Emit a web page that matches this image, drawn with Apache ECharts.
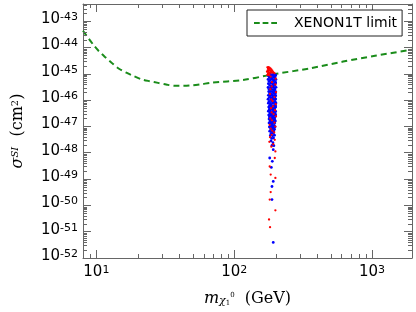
<!DOCTYPE html>
<html><head><meta charset="utf-8">
<script src="https://cdn.jsdelivr.net/npm/echarts@6/dist/echarts.min.js"></script>
<style>html,body{margin:0;padding:0;background:#fff}#c{width:416px;height:312px}</style>
</head><body><div id="c"></div>
<script>
// ---- data ----
const X_MIN = 8, X_MAX = 1950;          // GeV
const Y_MIN_EXP = -52, Y_MAX_EXP = -42.35; // log10(sigma / cm^2)

const xenonMass  = [8.0, 9.46, 10.4, 11.5, 12.9, 14.4, 16.5, 18.5, 21.2, 24.4, 28, 32.1, 37, 43.2, 50.2, 57.7, 68.1, 116, 172, 203, 354, 617, 1077, 1950];
const xenonSigma = [4.3e-44, 1.31e-44, 7.3e-45, 4.45e-45, 2.63e-45, 1.62e-45, 1.1e-45, 8.3e-46, 6.2e-46, 5.2e-46, 4.5e-46, 3.9e-46, 3.5e-46, 3.5e-46, 3.65e-46, 4.0e-46, 4.55e-46, 5.8e-46, 8.5e-46, 1.0e-45, 1.6e-45, 2.9e-45, 4.9e-45, 8.2e-45];

const bluePoints = [
[182,9.6e-46],[188,9.3e-46],[194,9.7e-46],[199,9.1e-46],
[177,8.4e-46],[185,8.1e-46],[191,8.5e-46],[197,8.2e-46],[200,8.6e-46],
[180,7.2e-46],[186,6.9e-46],[193,7.3e-46],[198,7.0e-46],
[176,6.1e-46],[183,5.9e-46],[189,6.2e-46],[195,5.8e-46],[201,6.0e-46],
[179,5.1e-46],[187,4.9e-46],[192,5.2e-46],[199,4.8e-46],
[177,4.2e-46],[184,4.4e-46],[190,4.1e-46],[196,4.3e-46],[200,4.5e-46],
[181,3.6e-46],[186,3.4e-46],[193,3.5e-46],[198,3.7e-46],
[176,3.0e-46],[183,2.9e-46],[189,3.1e-46],[195,2.95e-46],[201,3.05e-46],
[179,2.5e-46],[187,2.55e-46],[192,2.45e-46],[197,2.6e-46],
[178,2.1e-46],[184,2.15e-46],[190,2.05e-46],[196,2.2e-46],[200,2.1e-46],
[181,1.8e-46],[186,1.75e-46],[193,1.85e-46],[199,1.78e-46],
[177,1.52e-46],[183,1.48e-46],[188,1.55e-46],[195,1.5e-46],[200,1.46e-46],
[180,1.27e-46],[186,1.24e-46],[191,1.3e-46],[197,1.25e-46],
[176,1.08e-46],[184,1.05e-46],[189,1.1e-46],[194,1.06e-46],[200,1.09e-46],
[179,8.9e-47],[187,9.1e-47],[192,8.7e-47],[198,9.0e-47],
[177,7.6e-47],[183,7.4e-47],[190,7.8e-47],[196,7.5e-47],[201,7.7e-47],
[181,6.3e-47],[186,6.5e-47],[193,6.2e-47],[199,6.4e-47],
[178,5.4e-47],[184,5.3e-47],[189,5.5e-47],[195,5.35e-47],[200,5.45e-47],
[180,4.5e-47],[187,4.6e-47],[192,4.4e-47],[197,4.55e-47],
[177,3.8e-47],[183,3.9e-47],[190,3.75e-47],[196,3.85e-47],[200,3.7e-47],
[181,3.2e-47],[186,3.15e-47],[193,3.25e-47],[198,3.1e-47],
[178,2.7e-47],[184,2.65e-47],[189,2.75e-47],[195,2.68e-47],[200,2.72e-47],
[180,2.25e-47],[187,2.2e-47],[192,2.3e-47],[197,2.15e-47],
[179,1.9e-47],[185,1.88e-47],[190,1.93e-47],[196,1.87e-47],
[182,1.6e-47],[188,1.62e-47],[194,1.58e-47],[199,1.61e-47],
[179,1.35e-47],[185,1.33e-47],[191,1.37e-47],[197,1.34e-47],
[183,1.12e-47],[189,1.14e-47],[195,1.1e-47],
[180,9.5e-48],[186,9.7e-48],[192,9.3e-48],[198,9.6e-48],
[184,7.9e-48],[190,8.1e-48],[196,7.8e-48],
[181,6.6e-48],[188,6.5e-48],[194,6.7e-48],
[185,5.4e-48],[192,5.5e-48],
[183,4.5e-48],[190,4.4e-48],[196,4.6e-48],
[187,3.5e-48],[193,3.6e-48],
[185,2.8e-48],[191,2.4e-48],[188,1.9e-48],[194,1.85e-48],
[192,1.3e-48],[181,6.3e-49],[189,4.7e-49],[186,2.75e-49],[192,8.1e-50],[188,5.2e-50],[188,1.66e-50],[192,3.9e-52]
];

const redPoints = [
[174,1.75e-45],[177,1.8e-45],[180,1.7e-45],[176,1.55e-45],[179,1.5e-45],[183,1.6e-45],[186,1.45e-45],
[175,1.35e-45],[178,1.3e-45],[182,1.35e-45],[185,1.25e-45],[189,1.3e-45],[173,1.2e-45],[177,1.15e-45],
[181,1.1e-45],[184,1.15e-45],[188,1.1e-45],[192,1.15e-45],[196,1.05e-45],[176,1.0e-45],[180,9.6e-46],
[174,9.0e-46],[178,8.8e-46],
[184,7.8e-46],[200,6.5e-46],[188,4.8e-46],[199,3.9e-46],[187,3.3e-46],[183,2.6e-46],[201,2.0e-46],
[182,1.7e-46],[196,1.3e-46],[186,1.05e-46],[190,9.2e-47],[200,7.0e-47],[191,5.8e-47],[185,4.9e-47],
[198,4.1e-47],[187,3.4e-47],[193,2.9e-47],[201,2.4e-47],[183,2.0e-47],[188,1.7e-47],[196,1.4e-47],
[181,1.15e-47],[199,9.8e-48],[184,8.2e-48],[189,6.9e-48],[195,5.9e-48],[187,4.8e-48],[182,3.9e-48],
[197,3.1e-48],[180,2.6e-48],[192,2.1e-48],[186,1.7e-48],
[199,1.12e-48],[197,6.3e-49],[181,3.0e-49],[184,1.48e-49],[199,1.1e-49],[184,3.2e-50],[181,1.66e-50],
[199,6.5e-51],[179,2.9e-51],[182,1.48e-51]
];

const xMinorTicks = [9, 20, 30, 40, 50, 60, 70, 80, 90, 200, 300, 400, 500, 600, 700, 800, 900];
const yMinorMantissas = [2, 3, 4, 5, 6, 7, 8, 9];

// ---- helpers ----
const lg = Math.log10;
const toXY = p => [p[0], lg(p[1])];
const yMinorTicks = [];
for (let e = Y_MIN_EXP; e < Y_MAX_EXP; e++) yMinorMantissas.forEach(k => { const v = e + lg(k); if (v < Y_MAX_EXP) yMinorTicks.push(v); });

const AXIS_COLOR = '#666';
const GREEN = '#1a8c1a';
const SANS = 'DejaVu Sans';
const SERIF = 'DejaVu Serif';

function xLabel(v) {
  const e = lg(v); const r = Math.round(e);
  if (Math.abs(e - r) > 1e-6) return '';
  return '{b|10}{s|' + r + '}';
}
function yLabel(v) {
  const r = Math.round(v);
  if (Math.abs(v - r) > 1e-6) return '';
  return '{b|10}{s|' + r + '}';
}
const tickRich = {
  b: {fontFamily: SANS, fontSize: 15, lineHeight: 15, verticalAlign: 'bottom', color: '#000'},
  s: {fontFamily: SANS, fontSize: 11, lineHeight: 11, padding: [0, 0, 9, 0], verticalAlign: 'top', color: '#000'}
};
const titleRich = {
  i: {fontFamily: SERIF, fontStyle: 'italic', fontSize: 16, lineHeight: 16, verticalAlign: 'bottom', color: '#000'},
  r: {fontFamily: SERIF, fontSize: 16, lineHeight: 16, verticalAlign: 'bottom', color: '#000'},
  s: {fontFamily: SERIF, fontSize: 10, lineHeight: 10, padding: [0, 0, 10, 0], verticalAlign: 'top', color: '#000'},
  is: {fontFamily: SERIF, fontStyle: 'italic', fontSize: 10, lineHeight: 10, padding: [0, 0, 10, 0], verticalAlign: 'top', color: '#000'},
  sub: {fontFamily: SERIF, fontStyle: 'italic', fontSize: 11, lineHeight: 11, verticalAlign: 'bottom', color: '#000'},
  ss: {fontFamily: SERIF, fontSize: 7, lineHeight: 7, verticalAlign: 'bottom', color: '#000'},
  su: {fontFamily: SERIF, fontSize: 7, lineHeight: 7, padding: [0, 0, 8, 0], verticalAlign: 'bottom', color: '#000'}
};

function axisCommon(extra) {
  return Object.assign({
    axisLine: {show: true, onZero: false, lineStyle: {color: AXIS_COLOR, width: 1}},
    axisTick: {show: true, inside: true, length: 8, lineStyle: {color: AXIS_COLOR, width: 1}},
    splitLine: {show: false}
  }, extra);
}

function tickLine(x1, y1, x2, y2) {
  return {type: 'line', shape: {x1: x1, y1: y1, x2: x2, y2: y2}, style: {stroke: AXIS_COLOR, lineWidth: 1}};
}
function renderXMinor(params, api) {
  const cs = params.coordSys;
  const px = Math.round(api.coord([api.value(0), api.value(1)])[0]) + 0.5;
  const b = cs.y + cs.height, t = cs.y;
  return {type: 'group', children: [tickLine(px, b, px, b - 4), tickLine(px, t, px, t + 4)]};
}
function renderYMinor(params, api) {
  const cs = params.coordSys;
  const py = Math.round(api.coord([api.value(0), api.value(1)])[1]) + 0.5;
  const l = cs.x, r = cs.x + cs.width;
  return {type: 'group', children: [tickLine(l, py, l + 4, py), tickLine(r, py, r - 4, py)]};
}

const chart = echarts.init(document.getElementById('c'), null, {renderer: 'canvas'});
chart.setOption({
  animation: false,
  backgroundColor: '#fff',
  grid: {left: 83, right: 4, top: 4, bottom: 54},
  legend: {
    show: true,
    data: [{name: 'XENON1T limit', icon: 'path://M0,0H6V2H0Z M9,0H15V2H9Z M18,0H24V2H18Z'}],
    left: 247, top: 10,
    padding: [6, 5, 6, 7],
    borderColor: '#222', borderWidth: 1, backgroundColor: '#fff',
    itemWidth: 23, itemHeight: 14, symbolKeepAspect: true,
    itemStyle: {color: GREEN, borderWidth: 0},
    textStyle: {fontFamily: SANS, fontSize: 14, color: '#000', padding: [0, 0, 0, 12]}
  },
  xAxis: [
    axisCommon({type: 'log', logBase: 10, min: X_MIN, max: X_MAX, position: 'bottom',
      axisLabel: {formatter: xLabel, margin: 7, rich: tickRich, showMinLabel: false, showMaxLabel: false},
      name: '{i|m}{sub|χ}{ss|1}{su|0}{r|  (GeV)}',
      nameLocation: 'middle', nameGap: 33,
      nameTextStyle: {rich: titleRich}
    }),
    axisCommon({type: 'log', logBase: 10, min: X_MIN, max: X_MAX, position: 'top', axisLabel: {show: false}})
  ],
  yAxis: [
    axisCommon({type: 'value', min: Y_MIN_EXP, max: Y_MAX_EXP, interval: 1, position: 'left',
      axisLabel: {formatter: yLabel, margin: 5, padding: [0, 0, 4, 0], rich: tickRich},
      name: '{i|σ}{is|SI}{r|  (cm}{s|2}{r|)}',
      nameLocation: 'middle', nameGap: 50, nameRotate: 90,
      nameTextStyle: {rich: titleRich}
    }),
    axisCommon({type: 'value', min: Y_MIN_EXP, max: Y_MAX_EXP, interval: 1, position: 'right', axisLabel: {show: false}})
  ],
  series: [
    {
      name: 'XENON1T limit', type: 'line', z: 2,
      data: xenonMass.map((m, i) => [m, lg(xenonSigma[i])]),
      smooth: 0.3, showSymbol: false, symbol: 'none',
      lineStyle: {color: GREEN, width: 2, type: [6, 4]},
      itemStyle: {color: GREEN}
    },
    {
      name: 'blue', type: 'scatter', z: 3, symbolSize: 2.8,
      data: bluePoints.map(toXY), itemStyle: {color: '#0000ff', opacity: 1}
    },
    {
      name: 'red', type: 'scatter', z: 4, symbolSize: 2.3,
      data: redPoints.map(toXY), itemStyle: {color: '#ff0000', opacity: 1}
    },
    {
      name: 'xminor', type: 'custom', z: 5, silent: true,
      renderItem: renderXMinor, data: xMinorTicks.map(v => [v, Y_MIN_EXP])
    },
    {
      name: 'yminor', type: 'custom', z: 5, silent: true,
      renderItem: renderYMinor, data: yMinorTicks.map(v => [10, v])
    }
  ]
});
</script></body></html>
